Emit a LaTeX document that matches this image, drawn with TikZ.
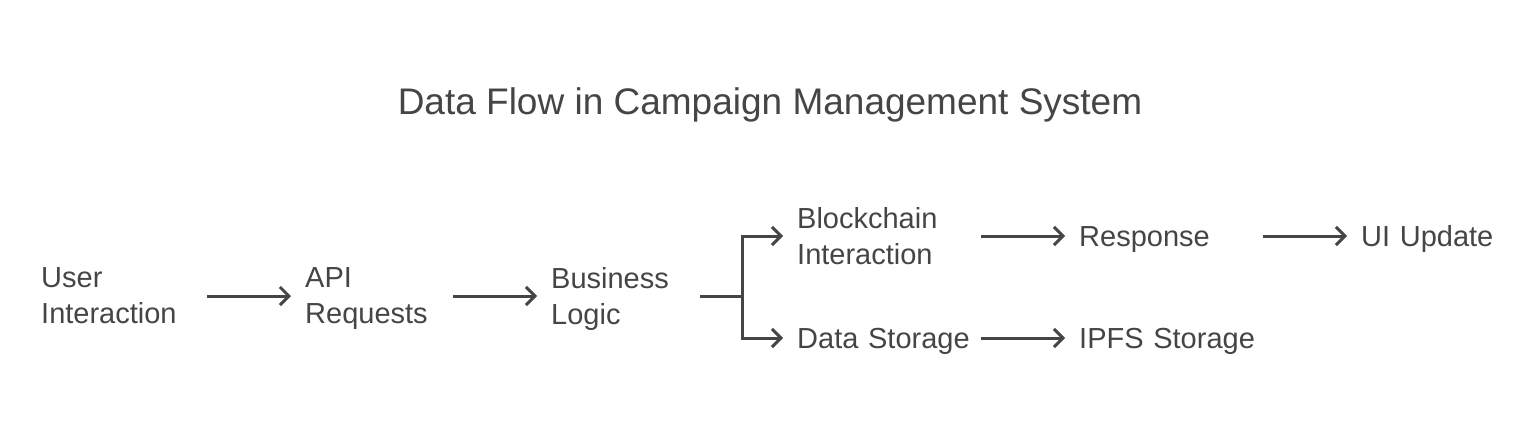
\documentclass[tikz,border=0pt]{standalone}
\usepackage{fontspec}
\setmainfont{Liberation Sans}
\usetikzlibrary{arrows.meta}
\definecolor{ink}{HTML}{454545}
\tikzset{
  lab/.style={anchor=west, inner sep=0pt, align=left, text=ink,
    font=\fontsize{29}{36}\selectfont},
  one/.style={lab, text height=21pt, text depth=0pt},
  conn/.style={draw=ink, line width=3pt},
  arr/.style={conn, -{Straight Barb[length=9pt,width=18pt,line width=3pt]}, shorten >=14pt}
}
\begin{document}
\begin{tikzpicture}[x=1pt,y=-1pt]
\useasboundingbox (0,0) rectangle (1539,429);
\node[anchor=base, inner sep=0pt, text=ink, font=\fontsize{37}{44}\selectfont] (title) at (770,114) {Data Flow in Campaign Management System};
\node[lab, text width=166pt] (user) at (41,296) {User\\Interaction};
\node[lab, text width=148pt] (api) at (305,296) {API\\\smash{Requests}};
\node[lab, text width=149pt] (biz) at (551,296) {Business\\\smash{Logic}};
\node[lab, text width=184pt] (block) at (797,236) {Blockchain\\Interaction};
\node[one, text width=184pt] (resp) at (1079,236) {Response};
\node[one, text width=160pt] (ui) at (1361,236) {UI Update};
\node[one, text width=184pt] (store) at (797,338) {Data Storage};
\node[one, text width=184pt] (ipfs) at (1079,338) {IPFS Storage};
\draw[arr] (user.east) -- (api.west);
\draw[arr] (api.east) -- (biz.west);
\draw[conn] (biz.east) -- ++(42,0) coordinate (br);
\draw[arr] (br) |- (block.west);
\draw[arr] (br) |- (store.west);
\draw[arr] (block.east) -- (resp.west);
\draw[arr] (resp.east) -- (ui.west);
\draw[arr] (store.east) -- (ipfs.west);
\end{tikzpicture}
\end{document}
